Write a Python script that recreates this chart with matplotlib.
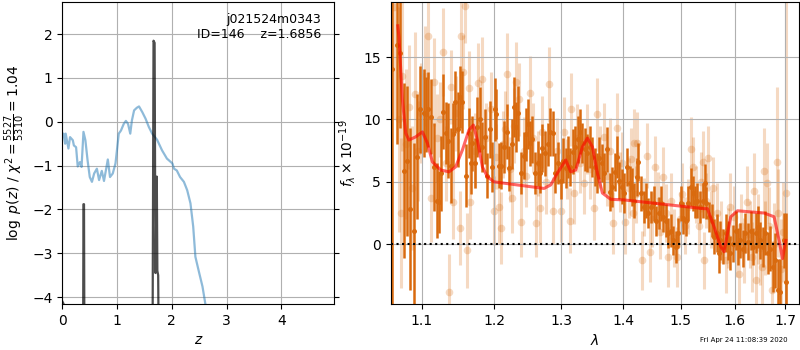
import numpy as np
import matplotlib
matplotlib.use('Agg')
import matplotlib.pyplot as plt
from matplotlib.ticker import NullLocator

# redshift fit (left panel)
z_grid = [0.0, 0.02, 0.05, 0.06, 0.11, 0.14, 0.19, 0.21, 0.25, 0.28, 0.32, 0.35, 0.385, 0.42,
          0.46, 0.50, 0.54, 0.58, 0.63, 0.67, 0.72, 0.76, 0.83, 0.87, 0.92, 0.97, 1.03, 1.07,
          1.12, 1.16, 1.20, 1.24, 1.27, 1.31, 1.36, 1.40, 1.46, 1.52, 1.58, 1.64, 1.73, 1.82,
          1.91, 2.01, 2.04, 2.09, 2.15, 2.22, 2.28, 2.34, 2.39, 2.43, 2.50, 2.56, 2.61, 2.70]
chi2_curve = [-0.3, -0.27, -0.5, -0.27, -0.61, -0.35, -0.42, -0.54, -0.58, -1.02, -0.92, -1.03,
              -0.23, -0.42, -0.88, -1.26, -1.37, -1.18, -1.07, -1.33, -1.12, -1.35, -0.86, -1.26,
              -1.18, -0.95, -0.27, -0.20, -0.05, 0.02, -0.05, -0.27, 0.03, 0.26, 0.32, 0.35,
              0.22, 0.07, -0.12, -0.27, -0.41, -0.65, -0.84, -0.95, -1.07, -1.11, -1.26, -1.37,
              -1.56, -1.86, -2.39, -3.08, -3.45, -3.76, -4.14, -5.0]

z_pz = [0.0, 0.02, 0.05, 0.37, 0.385, 0.395, 0.41, 1.62, 1.645, 1.665, 1.685, 1.700,
        1.725, 1.735, 1.75, 1.765, 1.78]
log_pz = [-4.1, -4.15, -9.0, -9.0, -1.88, -1.88, -9.0, -9.0, -6.0, 1.85, 1.8, -3.45,
          -1.25, -3.4, -3.5, -6.0, -9.0]

# spectrum (right panel), binned points
lam_bin = [1.062, 1.068, 1.072, 1.077, 1.081, 1.085, 1.090, 1.094, 1.098, 1.103, 1.106, 1.109,
           1.113, 1.116, 1.120, 1.123, 1.126, 1.129, 1.133, 1.135, 1.139, 1.142, 1.145, 1.149,
           1.152, 1.155, 1.160, 1.164, 1.167,
           1.169, 1.172, 1.176, 1.180, 1.183, 1.186, 1.190, 1.194, 1.197, 1.201, 1.203, 1.207,
           1.210, 1.214, 1.218, 1.221, 1.225, 1.228, 1.231, 1.235, 1.239, 1.243, 1.246, 1.249,
           1.253, 1.256, 1.260, 1.264, 1.267, 1.271, 1.275, 1.279, 1.283, 1.287, 1.290,
           1.295, 1.299, 1.303, 1.307, 1.310, 1.314, 1.319, 1.322, 1.326, 1.329, 1.333, 1.337,
           1.341, 1.345, 1.349, 1.353, 1.357, 1.361, 1.365, 1.369, 1.373, 1.378, 1.382, 1.386,
           1.390, 1.394, 1.398, 1.402, 1.407, 1.411, 1.415, 1.419, 1.424,
           1.426, 1.430, 1.435, 1.439, 1.443, 1.447, 1.452, 1.456, 1.461, 1.465, 1.469, 1.474,
           1.478, 1.482, 1.487, 1.492, 1.496, 1.500, 1.505, 1.510, 1.514, 1.518, 1.522, 1.526,
           1.530, 1.535, 1.540, 1.544, 1.547, 1.552, 1.557, 1.561, 1.566, 1.571,
           1.573, 1.577, 1.583, 1.588, 1.592, 1.596, 1.602, 1.607, 1.611, 1.616, 1.621, 1.626,
           1.631, 1.635, 1.641, 1.646, 1.650, 1.655, 1.660, 1.665, 1.670, 1.675, 1.680, 1.685,
           1.690, 1.697, 1.702]
flux_bin = [14.0, 16.0, 15.3, 5.9, 6.7, 2.8, 1.1, 7.0, 10.8, 10.5, 10.4, 10.8,
            10.2, 6.2, 3.5, 3.4, 5.7, 10.6, 8.9, 8.3, 6.3, 8.8, 11.4, 9.2,
            11.8, 11.4, 5.5, 8.9, 6.5,
            8.1, 6.5, 9.4, 10.0, 7.8, 8.6, 5.5, 9.2, 6.2, 10.8, 10.4, 6.3,
            6.3, 7.8, 9.0, 6.1, 8.0, 11.0, 9.4, 10.5, 5.7, 7.1, 8.8, 9.6,
            8.1, 8.4, 5.7, 6.5, 5.7, 7.7, 7.3, 8.0, 9.0, 8.9, 5.7,
            6.5, 5.1, 6.7, 6.1, 7.0, 6.2, 7.4, 7.8, 8.4, 9.0, 8.1, 7.6,
            7.3, 7.8, 7.0, 6.2, 5.7, 6.9, 6.5, 5.7, 7.6, 4.2, 4.6, 5.8,
            7.0, 5.1, 4.6, 4.1, 6.2, 4.9, 4.6, 3.5, 5.4,
            6.6, 4.1, 3.0, 3.5, 2.5, 3.0, 3.3, 1.9, 2.5, 3.3, 2.2, 1.9,
            0.9, 1.1, 0.3, -0.2, 0.9, 3.3, 2.1, 1.9, 3.3, 4.6, 4.1, 3.4,
            3.5, 3.0, 3.5, 4.9, 3.3, 2.2, 1.9, 0.6, 0.9, -0.7,
            0.3, -0.2, 0.9, 0.3, -0.7, 0.05, 1.1, -0.2, 0.3, -0.35, 0.9, 0.2,
            1.1, -0.2, 0.9, 1.4, 0.3, -0.2, 0.9, -0.7, -0.35, -1.8, -1.3, -3.7,
            -3.8, 0.3, -3.0]
err_bin = [19.0, 8.0, 6.0, 7.0, 6.0, 6.5, 7.0, 5.0, 3.5, 3.5, 3.0, 3.0,
           3.0, 3.5, 3.0, 2.5, 3.0, 3.0, 2.5, 3.0, 3.0, 2.5, 2.5, 3.0,
           2.5, 2.5, 2.5, 2.0, 2.5,
           2.2, 2.0, 2.4, 2.6, 2.0, 2.2, 1.8, 2.3, 2.0, 2.5, 2.0, 1.8,
           1.9, 2.1, 2.2, 1.8, 2.0, 2.4, 2.0, 2.2, 1.7, 1.9, 2.1, 2.0,
           1.8, 1.9, 1.7, 1.8, 1.6, 1.9, 1.8, 1.7, 1.9, 1.8, 1.6,
           1.7, 1.5, 1.8, 1.6, 1.7, 1.5, 1.8, 1.7, 1.9, 1.8, 1.6, 1.7,
           1.5, 1.7, 1.6, 1.5, 1.6, 1.7, 1.5, 1.6, 1.8, 1.5, 1.6, 1.5,
           1.7, 1.5, 1.4, 1.6, 1.5, 1.4, 1.5, 1.4, 1.5,
           1.5, 1.4, 1.3, 1.4, 1.2, 1.3, 1.4, 1.2, 1.3, 1.4, 1.2, 1.3,
           1.2, 1.3, 1.2, 1.3, 1.2, 1.4, 1.3, 1.2, 1.4, 1.5, 1.4, 1.3,
           1.4, 1.3, 1.4, 1.5, 1.3, 1.2, 1.3, 1.4, 1.5, 1.6,
           1.6, 1.4, 1.5, 1.6, 1.4, 1.5, 1.6, 1.5, 1.4, 1.5, 1.6, 1.5,
           1.6, 1.5, 1.6, 1.7, 1.5, 1.6, 1.8, 1.7, 1.8, 2.0, 2.2, 2.5,
           2.6, 2.2, 5.5]

# spectrum, unbinned pixels
lam_raw = [1.064, 1.070, 1.073, 1.075, 1.079, 1.083, 1.087, 1.091, 1.095, 1.099, 1.104, 1.108,
           1.112, 1.116, 1.120, 1.124, 1.128, 1.132, 1.136, 1.139, 1.142, 1.146, 1.151, 1.153,
           1.156, 1.159, 1.162, 1.164, 1.166,
           1.172, 1.177, 1.183, 1.188, 1.195, 1.200, 1.203, 1.207, 1.209, 1.212, 1.216, 1.219,
           1.222, 1.225, 1.228, 1.231, 1.236, 1.239, 1.243, 1.247, 1.253, 1.257, 1.261, 1.264,
           1.268, 1.271, 1.276, 1.281, 1.287,
           1.293, 1.300, 1.304, 1.309, 1.314, 1.316, 1.320, 1.325, 1.330, 1.336, 1.341, 1.346,
           1.352, 1.357, 1.362, 1.368, 1.373, 1.378, 1.383, 1.390, 1.395, 1.399, 1.404, 1.410,
           1.413, 1.417, 1.419, 1.422,
           1.424, 1.432, 1.436, 1.440, 1.446, 1.450, 1.455, 1.460, 1.464, 1.468, 1.473, 1.478,
           1.483, 1.488, 1.493, 1.498, 1.503, 1.508, 1.513, 1.518, 1.523, 1.528, 1.533, 1.537,
           1.541, 1.543, 1.546, 1.550, 1.555, 1.560, 1.566,
           1.575, 1.583, 1.587, 1.592, 1.598, 1.603, 1.608, 1.613, 1.618, 1.624, 1.629, 1.633,
           1.637, 1.641, 1.645, 1.649, 1.653, 1.657, 1.660, 1.663, 1.668, 1.673, 1.677, 1.683,
           1.686, 1.691, 1.695, 1.702]
flux_raw = [19.0, 10.0, 2.5, 13.5, 8.0, 11.0, 4.5, 12.0, 7.5, 10.5, 13.5, 16.7,
            3.7, 13.0, 8.5, 10.0, 15.4, 6.5, -3.8, 12.6, 3.4, 10.5, 1.3, 16.7,
            13.8, 19.1, -0.5, 12.5, 3.4,
            7.5, 12.9, 13.2, 8.5, 10.8, 2.7, 7.0, 3.0, 1.3, 8.0, 9.2, 13.6,
            6.0, 3.7, 9.5, 13.0, 11.6, 1.8, 7.5, 5.5, 12.1, 8.5, 1.7, 6.5,
            2.9, 9.0, 5.0, 12.8, 2.7,
            7.5, 2.7, 9.0, 6.0, 1.9, 10.8, 4.1, 8.5, 6.5, 4.9, 8.4, 6.0,
            2.9, 10.4, 7.0, 8.6, 5.5, 7.5, 1.7, 9.3, 5.0, 6.5, 1.8, 4.5,
            6.8, 2.5, 8.1, 4.0,
            8.1, -1.3, 3.0, 7.1, -0.6, 2.0, 6.2, 3.5, 1.0, 5.4, 2.5, -1.0,
            3.5, 0.5, -1.0, 2.0, 4.0, 1.5, 3.0, 7.6, 6.2, 4.0, 1.5, 5.0,
            6.6, -1.3, 3.5, 6.9, 2.0, 4.5, 2.5,
            1.0, -1.3, 0.5, 3.0, 2.2, 0.0, -2.4, 1.5, -0.5, 3.4, 0.8, -1.0,
            4.3, -2.9, 1.2, -0.3, -1.8, 5.9, 0.5, 4.9, 1.5, -3.7, 0.0, 6.6,
            2.5, -2.0, 1.0, 4.1]
err_raw = [9.0, 9.0, 6.0, 6.0, 6.0, 5.0, 5.0, 5.0, 4.0, 4.0, 4.0, 3.5,
           3.5, 3.5, 3.5, 3.0, 3.5, 3.0, 3.0, 3.0, 3.0, 3.0, 3.0, 3.0,
           3.0, 3.0, 3.0, 3.0, 3.0,
           3.0, 3.2, 3.4, 2.8, 3.0, 2.8, 2.6, 3.0, 2.9, 2.7, 3.1, 3.3,
           2.6, 2.8, 3.0, 3.2, 2.9, 2.8, 2.7, 2.5, 3.0, 2.8, 2.7, 2.6,
           2.8, 2.9, 2.6, 3.0, 2.7,
           2.6, 2.5, 2.8, 2.4, 2.6, 2.9, 2.5, 2.7, 2.4, 2.5, 2.8, 2.4,
           2.6, 2.9, 2.5, 2.7, 2.4, 2.6, 2.5, 2.8, 2.4, 2.5, 2.6, 2.4,
           2.5, 2.4, 2.7, 2.3,
           2.5, 2.4, 2.3, 2.6, 2.4, 2.2, 2.5, 2.3, 2.2, 2.4, 2.3, 2.4,
           2.2, 2.3, 2.4, 2.2, 2.5, 2.3, 2.2, 2.6, 2.4, 2.3, 2.2, 2.4,
           2.5, 2.3, 2.2, 2.6, 2.3, 2.5, 2.4,
           2.5, 2.6, 2.4, 2.7, 2.5, 2.6, 2.8, 2.5, 2.6, 2.9, 2.7, 2.8,
           3.0, 2.9, 2.8, 3.0, 3.1, 3.4, 3.0, 3.2, 3.1, 3.4, 3.3, 6.0,
           3.5, 4.0, 4.0, 25.0]

# best-fit template
lam_model = [1.069, 1.0705, 1.0749, 1.0792, 1.0834, 1.0921, 1.1010, 1.1076, 1.1142, 1.1254,
             1.1366, 1.1457, 1.1550, 1.1641, 1.1703, 1.1759, 1.1830, 1.1901, 1.1995, 1.2336,
             1.2735, 1.2838, 1.2941, 1.3071, 1.3149, 1.3229, 1.3335, 1.3415, 1.3496, 1.3576,
             1.3658, 1.3795, 1.4016, 1.4703, 1.5425, 1.5488, 1.5611, 1.5737, 1.5800, 1.5863,
             1.5927, 1.6055, 1.6575, 1.6775, 1.6875, 1.6944, 1.7011]
flux_model = [17.5, 16.6, 11.6, 8.9, 8.35, 8.6, 9.0, 8.1, 6.6, 5.95,
              5.8, 6.2, 7.55, 9.15, 9.55, 8.35, 6.2, 5.4, 5.0, 4.75,
              4.47, 4.75, 5.7, 6.75, 5.8, 5.95, 7.8, 8.5, 7.8, 5.7,
              4.1, 3.6, 3.55, 3.2, 2.85, 2.85, 1.4, -0.2, -0.6, 0.86,
              2.2, 2.68, 2.5, 2.2, 0.3, -1.15, 0.3]

xticks_lam = [1.1, 1.2, 1.3, 1.4, 1.5, 1.6, 1.7]

orange = '#d96a0e'

fig = plt.figure(figsize=(8, 3.5), dpi=100)
ax1 = fig.add_axes([0.078, 0.131, 0.34, 0.863])
ax2 = fig.add_axes([0.4884, 0.131, 0.5108, 0.863])

# left: p(z)
ax1.plot(z_grid, chi2_curve, color='tab:blue', alpha=0.5, lw=1.6)
ax1.plot(z_pz, log_pz, color='k', alpha=0.7, lw=1.6)
ax1.set_xlim(0, 4.97)
ax1.set_ylim(-4.16, 2.73)
ax1.set_xticks([0, 1, 2, 3, 4])
ax1.set_yticks([-4, -3, -2, -1, 0, 1, 2])
ax1.tick_params(axis='y', right=True)
ax1.grid()
ax1.set_xlabel(r'$z$')
ax1.set_ylabel(r'$\log\ p(z)$' + ' / ' + r'$\chi^2=\frac{5527}{5310}=1.04$')
ax1.text(0.95, 0.965, 'j021524m0343\nID=146    z=1.6856', transform=ax1.transAxes,
         ha='right', va='top', multialignment='right', fontsize=9)

# right: spectrum
ax2.errorbar(lam_raw, flux_raw, yerr=err_raw, fmt='o', color=orange, alpha=0.25,
             ms=5.5, mec='none', elinewidth=2.2, zorder=1)
ax2.errorbar(lam_bin, flux_bin, yerr=err_bin, fmt='o', color=orange,
             ms=3.6, mec='none', elinewidth=1.8, zorder=2)
ax2.axhline(0, color='k', ls=':', lw=1.5, zorder=3)
ax2.plot(lam_model, flux_model, color='r', alpha=0.6, lw=2.2, zorder=4)
ax2.set_xscale('log')
ax2.set_xlim(1.06, 1.729)
ax2.set_ylim(-4.8, 19.4)
ax2.set_xticks(xticks_lam)
ax2.set_xticklabels([str(t) for t in xticks_lam])
ax2.xaxis.set_minor_locator(NullLocator())
ax2.set_yticks([0, 5, 10, 15])
ax2.grid()
ax2.set_xlabel(r'$\lambda$')
ax2.set_ylabel(r'$f_\lambda\times10^{-19}$')

fig.text(0.985, 0.029, 'Fri Apr 24 11:08:39 2020', ha='right', va='center', fontsize=5)

fig.savefig('out.png', dpi=100)
